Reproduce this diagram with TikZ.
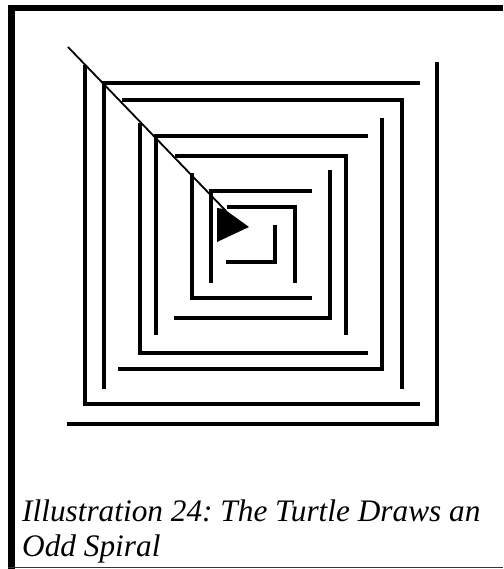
\documentclass[tikz,border=0pt]{standalone}
\usepackage{fontspec}
\setmainfont{Liberation Serif}
\frenchspacing

\tikzset{
  wall/.style={line width=3.4pt},
  trail/.style={line width=1.8pt},
  captext/.style={inner sep=0pt, anchor=base west,
    font=\fontsize{31.3}{35}\selectfont\itshape}
}

\begin{document}
\begin{tikzpicture}[x=1pt, y=-1pt]
  \useasboundingbox (0,0) rectangle (503,569);
  % frame
  \draw[line width=6.5pt] (11.5,569) -- (11.5,8) -- (503,8);
  \draw[line width=1.5pt, black!80] (8,567.5) -- (503,567.5);

  % spiral, outside in
  \draw[wall] (437,62) -- (437,424) -- (67,424);
  \draw[wall] (85,65) -- (85,404) -- (420,404);
  \draw[wall] (420,83) -- (104,83) -- (104,389);
  \draw[wall] (122,100) -- (402,100) -- (402,389);
  \draw[wall] (382,118) -- (382,369) -- (118,369);
  \draw[wall] (140,123) -- (140,353) -- (368,353);
  \draw[wall] (368,136) -- (156,136) -- (156,335);
  \draw[wall] (175,156) -- (346,156) -- (346,335);
  \draw[wall] (330,170) -- (330,318) -- (174,318);
  \draw[wall] (192,173) -- (192,298) -- (312,298);
  \draw[wall] (312,191) -- (211,191) -- (211,283);
  \draw[wall] (227,207) -- (295,207) -- (295,283);
  \draw[wall] (275,225) -- (275,262) -- (226,262);

  % turtle and its way in
  \coordinate (start) at (68,47);
  \coordinate (turtle) at (226,211);
  \draw[trail] (start) -- (turtle);
  \fill (217,208) -- (224,209) -- (249,227) -- (217,242) -- cycle;

  \node[captext] (cap1) at (22,521) {Illustration 24: The Turtle Draws an};
  \node[captext] (cap2) at ([yshift=-35pt]cap1.base west) {Odd Spiral};
\end{tikzpicture}
\end{document}
